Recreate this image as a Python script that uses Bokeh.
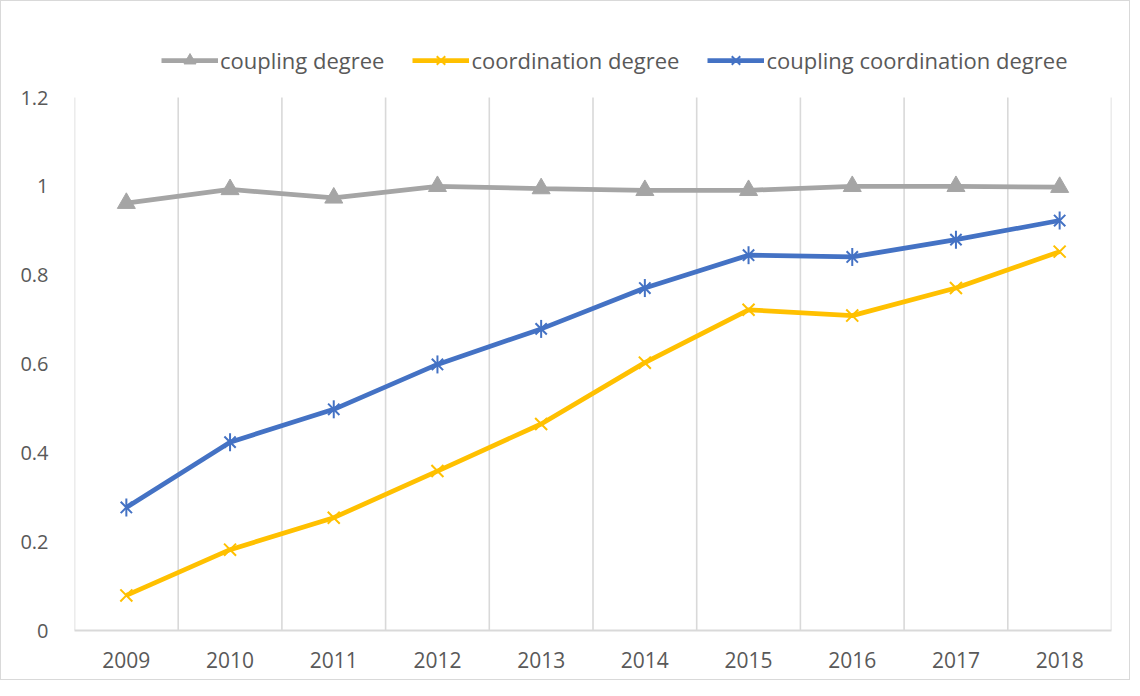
from bokeh.plotting import figure
from bokeh.models import (FactorRange, Range1d, FixedTicker, CustomJSTickFormatter,
                          Legend, LegendItem, ColumnDataSource)
from bokeh.embed import file_html
from bokeh.resources import INLINE
import math

years = ["2009", "2010", "2011", "2012", "2013", "2014", "2015", "2016", "2017", "2018"]
coupling = [0.962, 0.993, 0.974, 1.0, 0.995, 0.991, 0.991, 1.0, 1.0, 0.998]
coordination = [0.079, 0.182, 0.254, 0.359, 0.465, 0.603, 0.722, 0.709, 0.771, 0.853]
coupling_coord = [0.277, 0.424, 0.498, 0.599, 0.679, 0.771, 0.845, 0.841, 0.880, 0.923]
y_ticks = [0, 0.2, 0.4, 0.6, 0.8, 1.0, 1.2]

FONT = "Open Sans"
TXT = "#595959"
GRID = "#d9d9d9"

W, H = 1130, 680
TOP, BOTTOM = 10, 51
plot_px = 533  # pixel height of the 0..1.2 value span
px_per_unit = plot_px / y_ticks[-1]
frame_h = H - TOP - BOTTOM
y_end = frame_h / px_per_unit

p = figure(width=W, height=H, output_backend="svg", toolbar_location=None,
           x_range=FactorRange(*years, range_padding=0), y_range=Range1d(0, y_end),
           min_border_left=73, min_border_right=20, min_border_top=TOP, min_border_bottom=BOTTOM)
p.outline_line_color = None
p.background_fill_color = "white"
p.border_fill_color = "white"
p.styles = {"border": "1px solid #d9d9d9"}

p.xgrid.grid_line_color = None
p.ygrid.grid_line_color = None

# vertical gridlines at category boundaries, from 0 up to the top tick
bx = [(yr, -0.5) for yr in years] + [(years[-1], 0.5)]
p.segment(x0=bx, x1=bx, y0=[0] * len(bx), y1=[y_ticks[-1]] * len(bx),
          line_color=GRID, line_width=1.6)

p.yaxis.ticker = FixedTicker(ticks=y_ticks)
p.yaxis.formatter = CustomJSTickFormatter(code="return String(Math.round(tick*10)/10);")
p.yaxis.axis_line_color = None
p.yaxis.major_tick_line_color = None
p.yaxis.minor_tick_line_color = None
p.yaxis.major_label_standoff = 20
p.yaxis.major_label_text_font = FONT
p.yaxis.major_label_text_font_size = "20px"
p.yaxis.major_label_text_color = TXT

p.xaxis.axis_line_color = GRID
p.xaxis.axis_line_width = 2
p.xaxis.major_tick_line_color = None
p.xaxis.minor_tick_line_color = None
p.xaxis.major_label_standoff = 15
p.xaxis.major_label_text_font = FONT
p.xaxis.major_label_text_font_size = "21px"
p.xaxis.major_label_text_color = TXT

src = ColumnDataSource(dict(x=years, a=coupling, b=coordination, c=coupling_coord))

r1l = p.line("x", "a", source=src, line_color="#A5A5A5", line_width=4.75)
r1m = p.scatter("x", "a", source=src, marker="triangle", size=18,
                fill_color="#A5A5A5", line_color="#A5A5A5")

r2l = p.line("x", "b", source=src, line_color="#FFC000", line_width=4.75)
r2m = p.scatter("x", "b", source=src, marker="x", size=17,
                line_color="#FFC000", line_width=2)

r3l = p.line("x", "c", source=src, line_color="#4472C4", line_width=4.75)
r3m = p.scatter("x", "c", source=src, marker="x", size=16,
                line_color="#4472C4", line_width=2)
r3d = p.scatter("x", "c", source=src, marker="dash", size=18, angle=math.pi / 2,
                line_color="#4472C4", line_width=2)

legend = Legend(items=[
    LegendItem(label="coupling degree", renderers=[r1l, r1m]),
    LegendItem(label="coordination degree", renderers=[r2l, r2m]),
    LegendItem(label="coupling coordination degree", renderers=[r3l, r3m, r3d]),
], orientation="horizontal", location=(87, plot_px + 22))
legend.border_line_color = None
legend.background_fill_alpha = 0
legend.padding = 0
legend.margin = 0
legend.spacing = 28
legend.glyph_width = 57
legend.glyph_height = 30
legend.label_height = 30
legend.label_standoff = 2
legend.label_text_font = FONT
legend.label_text_font_size = "22px"
legend.label_text_color = TXT
p.add_layout(legend, "center")

open("out.html", "w").write(file_html(p, INLINE))
